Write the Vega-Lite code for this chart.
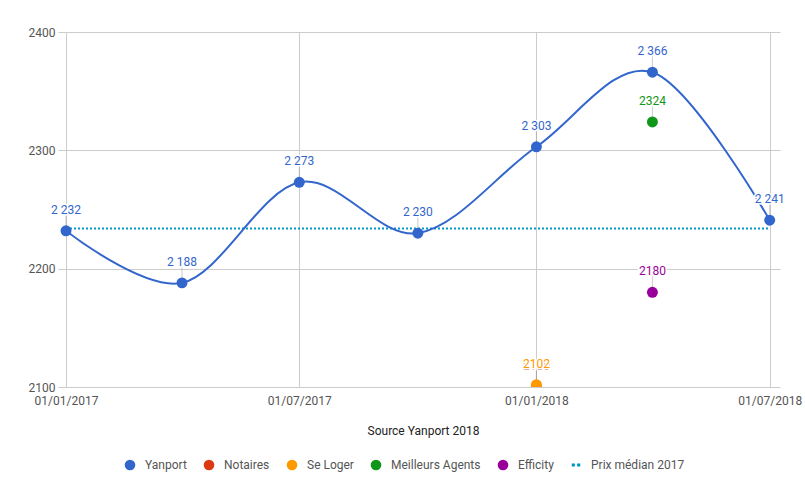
{
  "$schema": "https://vega.github.io/schema/vega-lite/v6.json",
  "width": 714,
  "height": 355,
  "autosize": {"type": "none"},
  "padding": {"left": 66, "top": 32, "right": 25, "bottom": 111},
  "background": "white",
  "config": {
    "view": {"stroke": null},
    "font": "Roboto",
    "locale": {"number": {"decimal": ",", "thousands": " ", "grouping": [3], "currency": ["", " €"]}}
  },
  "datasets": {
    "points": [
      {"date": "2017-01-01", "series": "Yanport", "value": 2232},
      {"date": "2017-04-01", "series": "Yanport", "value": 2188},
      {"date": "2017-07-01", "series": "Yanport", "value": 2273},
      {"date": "2017-10-01", "series": "Yanport", "value": 2230},
      {"date": "2018-01-01", "series": "Yanport", "value": 2303},
      {"date": "2018-04-01", "series": "Yanport", "value": 2366},
      {"date": "2018-07-01", "series": "Yanport", "value": 2241},
      {"date": "2018-01-01", "series": "Notaires", "value": 2100},
      {"date": "2018-01-01", "series": "Se Loger", "value": 2102},
      {"date": "2018-04-01", "series": "Meilleurs Agents", "value": 2324},
      {"date": "2018-04-01", "series": "Efficity", "value": 2180}
    ],
    "median": [
      {"date": "2017-01-01", "value": 2234},
      {"date": "2018-07-01", "value": 2234}
    ]
  },
  "encoding": {
    "x": {
      "field": "date",
      "type": "temporal",
      "scale": {
        "type": "utc",
        "domain": [
          {"year": 2017, "month": 1, "date": 1, "utc": true},
          {"year": 2018, "month": 7, "date": 9, "utc": true}
        ]
      },
      "axis": {
        "values": [
          {"year": 2017, "month": 1, "date": 1, "utc": true},
          {"year": 2017, "month": 7, "date": 1, "utc": true},
          {"year": 2018, "month": 1, "date": 1, "utc": true},
          {"year": 2018, "month": 7, "date": 1, "utc": true}
        ],
        "labelExpr": "utcFormat(datum.value, '%d/%m/%Y')",
        "grid": true,
        "gridColor": "#cccccc",
        "domain": false,
        "ticks": false,
        "labelPadding": 8,
        "labelFontSize": 12,
        "labelColor": "#555555",
        "labelFont": "Roboto",
        "labelOverlap": false,
        "labelFlush": false,
        "title": "Source Yanport 2018",
        "titleFont": "Roboto",
        "titleFontSize": 12,
        "titleFontWeight": "normal",
        "titleColor": "#222222",
        "titlePadding": 19
      }
    },
    "y": {
      "field": "value",
      "type": "quantitative",
      "scale": {"domain": [2100, 2400], "nice": false, "zero": false},
      "axis": {
        "values": [2100, 2200, 2300, 2400],
        "format": "d",
        "grid": true,
        "gridColor": "#cccccc",
        "domain": false,
        "ticks": true,
        "tickColor": "#cccccc",
        "tickSize": 8,
        "labelPadding": 3,
        "labelFontSize": 12,
        "labelColor": "#555555",
        "labelFont": "Roboto",
        "title": null
      }
    }
  },
  "layer": [
    {
      "data": {"name": "median"},
      "mark": {"type": "line", "color": "#0099c6", "strokeWidth": 2, "strokeDash": [2, 2]},
      "encoding": {}
    },
    {
      "data": {"name": "points"},
      "transform": [{"filter": "datum.series === 'Yanport'"}],
      "mark": {"type": "line", "color": "#3366cc", "strokeWidth": 2, "interpolate": "cardinal"},
      "encoding": {}
    },
    {
      "data": {"name": "points"},
      "mark": {"type": "rule", "color": "#999999", "opacity": 0.5, "strokeWidth": 1, "y2Offset": -16},
      "encoding": {"y2": {"field": "value"}}
    },
    {
      "data": {"name": "points"},
      "transform": [{"filter": "datum.series !== 'Notaires' && datum.series !== 'Se Loger'"}],
      "mark": {"type": "point", "filled": true, "opacity": 1, "size": 120},
      "encoding": {
        "color": {
          "field": "series",
          "type": "nominal",
          "scale": {
            "domain": ["Yanport", "Notaires", "Se Loger", "Meilleurs Agents", "Efficity", "Prix médian 2017"],
            "range": ["#3366cc", "#dc3912", "#ff9900", "#109618", "#990099", "#0099c6"]
          },
          "legend": {
            "title": null,
            "orient": "none",
            "direction": "horizontal",
            "legendX": 58,
            "legendY": 427,
            "padding": 0,
            "symbolSize": 113,
            "symbolStrokeWidth": 0,
            "symbolOpacity": 1,
            "labelFontSize": 12,
            "labelFont": "Roboto",
            "labelColor": "#555555",
            "labelOffset": 9,
            "columnPadding": 16,
            "labelLimit": 300
          }
        },
        "shape": {
          "field": "series",
          "type": "nominal",
          "scale": {
            "domain": ["Yanport", "Notaires", "Se Loger", "Meilleurs Agents", "Efficity", "Prix médian 2017"],
            "range": ["circle", "circle", "circle", "circle", "circle", "M-0.8,-0.3H-0.2V0.3H-0.8Z M0.2,-0.3H0.8V0.3H0.2Z"]
          }
        }
      }
    },
    {
      "data": {"name": "points"},
      "transform": [{"filter": "datum.series === 'Notaires' || datum.series === 'Se Loger'"}],
      "mark": {"type": "point", "filled": true, "opacity": 1, "size": 120, "clip": true},
      "encoding": {
        "color": {"field": "series", "type": "nominal"},
        "shape": {"field": "series", "type": "nominal"}
      }
    },
    {
      "data": {"name": "points"},
      "transform": [{"filter": "datum.series === 'Yanport'"}],
      "mark": {"type": "text", "fill": "white", "stroke": "white", "strokeWidth": 3, "dy": -21, "fontSize": 12, "font": "Roboto"},
      "encoding": {"text": {"field": "value", "type": "quantitative", "format": ",d"}}
    },
    {
      "data": {"name": "points"},
      "transform": [{"filter": "datum.series === 'Yanport'"}],
      "mark": {"type": "text", "dy": -21, "fontSize": 12, "font": "Roboto"},
      "encoding": {
        "text": {"field": "value", "type": "quantitative", "format": ",d"},
        "color": {"field": "series", "type": "nominal"}
      }
    },
    {
      "data": {"name": "points"},
      "transform": [{"filter": "datum.series === 'Notaires'"}],
      "mark": {"type": "text", "fill": "white", "stroke": "white", "strokeWidth": 3, "dy": -21, "fontSize": 12, "font": "Roboto"},
      "encoding": {"text": {"field": "value", "type": "quantitative", "format": "d"}}
    },
    {
      "data": {"name": "points"},
      "transform": [{"filter": "datum.series === 'Notaires'"}],
      "mark": {"type": "text", "dy": -21, "fontSize": 12, "font": "Roboto"},
      "encoding": {
        "text": {"field": "value", "type": "quantitative", "format": "d"},
        "color": {"field": "series", "type": "nominal"}
      }
    },
    {
      "data": {"name": "points"},
      "transform": [{"filter": "datum.series !== 'Yanport' && datum.series !== 'Notaires'"}],
      "mark": {"type": "text", "fill": "white", "stroke": "white", "strokeWidth": 3, "dy": -21, "fontSize": 12, "font": "Roboto"},
      "encoding": {"text": {"field": "value", "type": "quantitative", "format": "d"}}
    },
    {
      "data": {"name": "points"},
      "transform": [{"filter": "datum.series !== 'Yanport' && datum.series !== 'Notaires'"}],
      "mark": {"type": "text", "dy": -21, "fontSize": 12, "font": "Roboto"},
      "encoding": {
        "text": {"field": "value", "type": "quantitative", "format": "d"},
        "color": {"field": "series", "type": "nominal"}
      }
    }
  ]
}
